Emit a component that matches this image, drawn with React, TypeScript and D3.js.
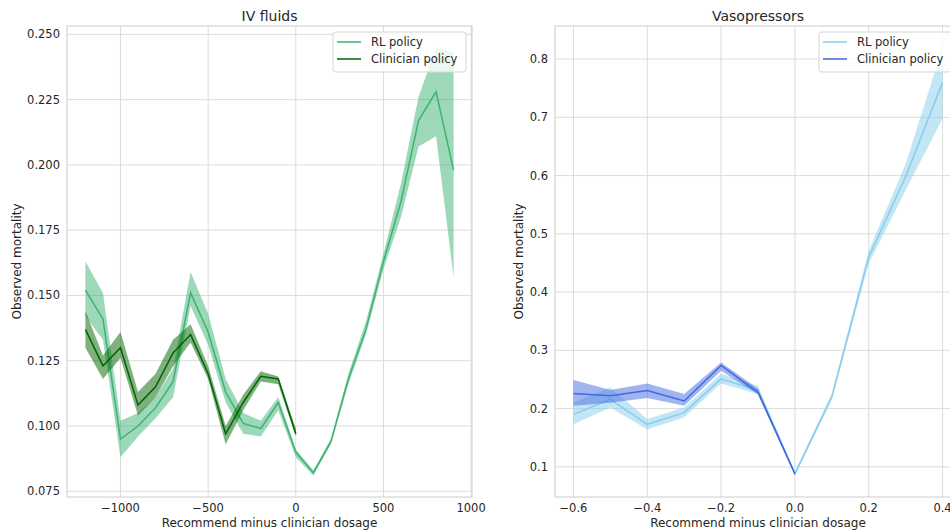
import React, { useEffect, useRef } from 'react';
import * as d3 from 'd3';

// IV fluids panel
const ivDose = [-1200, -1100, -1000, -900, -800, -700, -600, -500, -400, -300, -200, -100, 0, 100, 200, 300, 400, 500, 600, 700, 800, 900];
const ivRL = [0.152, 0.141, 0.095, 0.100, 0.107, 0.117, 0.151, 0.136, 0.113, 0.101, 0.099, 0.109, 0.090, 0.082, 0.094, 0.118, 0.137, 0.163, 0.186, 0.217, 0.228, 0.198];
const ivRLLo = [0.142, 0.133, 0.088, 0.096, 0.103, 0.111, 0.146, 0.131, 0.109, 0.097, 0.096, 0.106, 0.088, 0.081, 0.093, 0.116, 0.135, 0.160, 0.180, 0.207, 0.211, 0.157];
const ivRLHi = [0.163, 0.151, 0.102, 0.105, 0.111, 0.122, 0.159, 0.143, 0.118, 0.105, 0.102, 0.111, 0.091, 0.083, 0.095, 0.120, 0.140, 0.166, 0.193, 0.226, 0.245, 0.243];
const ivClinDose = [-1200, -1100, -1000, -900, -800, -700, -600, -500, -400, -300, -200, -100, 0];
const ivClin = [0.137, 0.123, 0.130, 0.108, 0.115, 0.128, 0.135, 0.120, 0.097, 0.109, 0.119, 0.118, 0.097];
const ivClinLo = [0.130, 0.118, 0.126, 0.104, 0.111, 0.123, 0.132, 0.118, 0.093, 0.106, 0.117, 0.116, 0.096];
const ivClinHi = [0.144, 0.127, 0.136, 0.113, 0.120, 0.133, 0.139, 0.123, 0.100, 0.112, 0.121, 0.119, 0.099];
const ivXTicks = [-1000, -500, 0, 500, 1000];
const ivYTicks = [0.075, 0.1, 0.125, 0.15, 0.175, 0.2, 0.225, 0.25];

// Vasopressors panel
const vaDose = [-0.6, -0.5, -0.4, -0.3, -0.2, -0.1, 0.0, 0.1, 0.2, 0.3, 0.4];
const vaRL = [0.190, 0.216, 0.173, 0.193, 0.251, 0.231, 0.088, 0.220, 0.460, 0.598, 0.760];
const vaRLLo = [0.173, 0.202, 0.164, 0.185, 0.243, 0.225, 0.085, 0.215, 0.449, 0.575, 0.698];
const vaRLHi = [0.210, 0.236, 0.182, 0.202, 0.260, 0.239, 0.092, 0.226, 0.471, 0.620, 0.820];
const vaClinDose = [-0.6, -0.5, -0.4, -0.3, -0.2, -0.1, 0.0];
const vaClin = [0.226, 0.222, 0.231, 0.213, 0.274, 0.228, 0.088];
const vaClinLo = [0.205, 0.210, 0.218, 0.205, 0.265, 0.224, 0.086];
const vaClinHi = [0.249, 0.232, 0.243, 0.225, 0.279, 0.234, 0.090];
const vaXTicks = [-0.6, -0.4, -0.2, 0.0, 0.2, 0.4];
const vaYTicks = [0.1, 0.2, 0.3, 0.4, 0.5, 0.6, 0.7, 0.8];

const FONT = 'DejaVu Sans, sans-serif';
const TEXT = '#262626';

function pad(ext: number[]) {
  const m = (ext[1] - ext[0]) * 0.05;
  return [ext[0] - m, ext[1] + m];
}

function drawPanel(svg: any, opt: any) {
  const { x0, x1, y0, y1, title, xs, xsC, rl, rlLo, rlHi, cl, clLo, clHi, xTicks, yTicks, xFmt, yFmt, cRL, cCl, legendX, labelX } = opt;

  const x = d3.scaleLinear().domain(pad(d3.extent(xs) as number[])).range([x0, x1]);
  const y = d3.scaleLinear().domain(pad([d3.min(rlLo.concat(clLo)) as number, d3.max(rlHi.concat(clHi)) as number])).range([y1, y0]);

  const g = svg.append('g');

  // grid
  g.selectAll('.gx').data(xTicks).enter().append('line')
    .attr('x1', (d: number) => x(d)).attr('x2', (d: number) => x(d))
    .attr('y1', y0).attr('y2', y1)
    .attr('stroke', '#dcdcdc').attr('stroke-width', 1);
  g.selectAll('.gy').data(yTicks).enter().append('line')
    .attr('x1', x0).attr('x2', x1)
    .attr('y1', (d: number) => y(d)).attr('y2', (d: number) => y(d))
    .attr('stroke', '#dcdcdc').attr('stroke-width', 1);

  const clipId = 'clip' + Math.round(x0);
  svg.append('clipPath').attr('id', clipId).append('rect')
    .attr('x', x0).attr('y', y0).attr('width', x1 - x0).attr('height', y1 - y0);
  const plot = g.append('g').attr('clip-path', `url(#${clipId})`);

  const band = (xv: number[], lo: number[], hi: number[]) =>
    d3.area<number>().x((_, i) => x(xv[i])).y0((_, i) => y(lo[i])).y1((_, i) => y(hi[i]))(xv);
  const line = (xv: number[], v: number[]) =>
    d3.line<number>().x((_, i) => x(xv[i])).y((_, i) => y(v[i]))(xv);

  plot.append('path').attr('d', band(xs, rlLo, rlHi)).attr('fill', cRL).attr('fill-opacity', 0.5);
  plot.append('path').attr('d', line(xs, rl)).attr('fill', 'none').attr('stroke', cRL).attr('stroke-width', 1.5);
  plot.append('path').attr('d', band(xsC, clLo, clHi)).attr('fill', cCl).attr('fill-opacity', 0.5);
  plot.append('path').attr('d', line(xsC, cl)).attr('fill', 'none').attr('stroke', cCl).attr('stroke-width', 1.5);

  // spines
  g.append('rect').attr('x', x0).attr('y', y0).attr('width', x1 - x0).attr('height', y1 - y0)
    .attr('fill', 'none').attr('stroke', '#cccccc').attr('stroke-width', 1);

  // tick labels
  g.selectAll('.tx').data(xTicks).enter().append('text')
    .attr('x', (d: number) => x(d)).attr('y', y1 + 15)
    .attr('text-anchor', 'middle').attr('font-family', FONT).attr('font-size', 11.5).attr('fill', TEXT)
    .text((d: number) => xFmt(d).replace('-', '\u2212'));
  g.selectAll('.ty').data(yTicks).enter().append('text')
    .attr('x', x0 - 7).attr('y', (d: number) => y(d) + 4)
    .attr('text-anchor', 'end').attr('font-family', FONT).attr('font-size', 11.5).attr('fill', TEXT)
    .text((d: number) => yFmt(d));

  g.append('text').attr('x', (x0 + x1) / 2).attr('y', 21)
    .attr('text-anchor', 'middle').attr('font-family', FONT).attr('font-size', 14).attr('fill', TEXT)
    .text(title);
  g.append('text').attr('x', (x0 + x1) / 2).attr('y', y1 + 30)
    .attr('text-anchor', 'middle').attr('font-family', FONT).attr('font-size', 12).attr('fill', TEXT)
    .text('Recommend minus clinician dosage');
  g.append('text').attr('transform', `translate(${labelX},${(y0 + y1) / 2}) rotate(-90)`)
    .attr('text-anchor', 'middle').attr('font-family', FONT).attr('font-size', 12).attr('fill', TEXT)
    .text('Observed mortality');

  // legend
  const lg = g.append('g').attr('transform', `translate(${legendX},${y0 + 6})`);
  lg.append('rect').attr('x', 0).attr('y', 0).attr('width', 133).attr('height', 40).attr('rx', 3)
    .attr('fill', 'white').attr('fill-opacity', 0.8).attr('stroke', '#d5d5d5');
  [['RL policy', cRL], ['Clinician policy', cCl]].forEach(([name, c], i) => {
    lg.append('line').attr('x1', 4).attr('x2', 28).attr('y1', 10 + i * 17).attr('y2', 10 + i * 17)
      .attr('stroke', c).attr('stroke-width', 1.5);
    lg.append('text').attr('x', 38).attr('y', 14 + i * 17)
      .attr('font-family', FONT).attr('font-size', 11.5).attr('fill', TEXT).text(name);
  });
}

export default function App() {
  const ref = useRef<SVGSVGElement>(null);

  useEffect(() => {
    const svg = d3.select(ref.current);
    svg.selectAll('*').remove();
    svg.append('rect').attr('width', 950).attr('height', 531).attr('fill', 'white');

    drawPanel(svg, {
      x0: 67, x1: 472, y0: 26, y1: 497, title: 'IV fluids',
      xs: ivDose, xsC: ivClinDose, rl: ivRL, rlLo: ivRLLo, rlHi: ivRLHi,
      cl: ivClin, clLo: ivClinLo, clHi: ivClinHi,
      xTicks: ivXTicks, yTicks: ivYTicks,
      xFmt: (d: number) => String(d), yFmt: d3.format('.3f'),
      cRL: '#3cb371', cCl: '#006400', legendX: 333, labelX: 21,
    });
    drawPanel(svg, {
      x0: 555, x1: 961, y0: 26, y1: 497, title: 'Vasopressors',
      xs: vaDose, xsC: vaClinDose, rl: vaRL, rlLo: vaRLLo, rlHi: vaRLHi,
      cl: vaClin, clLo: vaClinLo, clHi: vaClinHi,
      xTicks: vaXTicks, yTicks: vaYTicks,
      xFmt: d3.format('.1f'), yFmt: d3.format('.1f'),
      cRL: '#87ceeb', cCl: '#4169e1', legendX: 819, labelX: 523,
    });

    return () => {
      d3.select(ref.current).selectAll('*').remove();
    };
  }, []);

  return <svg ref={ref} width={950} height={531} style={{ position: 'absolute', left: 0, top: 0 }} />;
}
